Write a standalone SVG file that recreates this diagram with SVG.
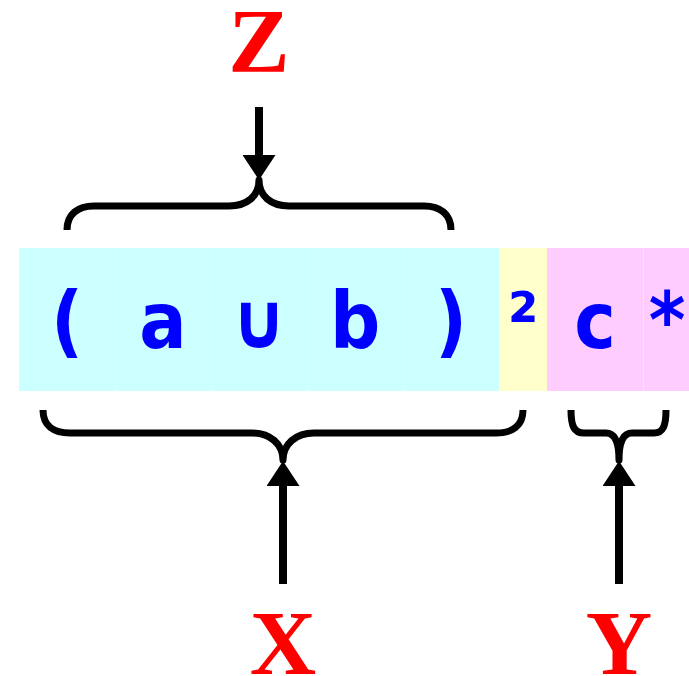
<svg xmlns="http://www.w3.org/2000/svg" width="689" height="676" viewBox="0 0 689 676">
<defs>
<style>
.sym{font-family:"DejaVu Sans Condensed","DejaVu Sans",sans-serif;font-stretch:condensed;font-weight:bold;font-size:78px;fill:#0000ff;text-anchor:middle}
.lbl{font-family:"Liberation Serif","Times New Roman",serif;font-weight:bold;font-size:92px;fill:#ff0000;text-anchor:middle}
.brace{fill:none;stroke:#000;stroke-width:7;stroke-linecap:butt;stroke-linejoin:round}
.arrow{fill:none;stroke:#000;stroke-width:8}
.sep{stroke:#ffffff;stroke-opacity:0.35;stroke-width:1}
</style>
<marker id="ah" viewBox="0 0 25 33" refX="0" refY="16.5" markerWidth="25" markerHeight="33" markerUnits="userSpaceOnUse" orient="auto">
<path d="M0,0 L25,16.5 L0,33 z" fill="#000"/>
</marker>
</defs>
<rect width="689" height="676" fill="#ffffff"/>
<g id="cells">
<rect x="19" y="248" width="480" height="143" fill="#ccffff"/>
<rect x="499" y="248" width="48" height="143" fill="#ffffcc"/>
<rect x="547" y="248" width="142" height="143" fill="#ffccff"/>
<line class="sep" x1="115.5" y1="248" x2="115.5" y2="391"/>
<line class="sep" x1="211.5" y1="248" x2="211.5" y2="391"/>
<line class="sep" x1="307.5" y1="248" x2="307.5" y2="391"/>
<line class="sep" x1="403.5" y1="248" x2="403.5" y2="391"/>
<line class="sep" x1="643.5" y1="248" x2="643.5" y2="391"/>
</g>
<g id="symbols">
<text class="sym" x="67" y="348">(</text>
<text class="sym" x="163" y="348">a</text>
<text class="sym" x="259" y="348">∪</text>
<text class="sym" x="355" y="348">b</text>
<text class="sym" x="451" y="348">)</text>
<text class="sym" x="523" y="348">²</text>
<text class="sym" x="595" y="348">c</text>
<text class="sym" x="667" y="348">*</text>
</g>
<g id="label-Z"><text class="lbl" x="259" y="72">Z</text></g>
<g id="label-X"><text class="lbl" x="283" y="674">X</text></g>
<g id="label-Y"><text class="lbl" x="619" y="674">Y</text></g>
<g id="connectors">
<path class="brace" d="M67,230 C67,214 78,206 94,206 L229,206 C247,206 259,196 259,180 C259,196 271,206 289,206 L424,206 C440,206 451,214 451,230"/>
<path class="brace" d="M43,410 C43,426 54,433 70,433 L252,433 C270,433 283,444 283,460 C283,444 296,433 314,433 L496,433 C512,433 523,426 523,410"/>
<path class="brace" d="M571,410 C571,426 574,433 584,433 L606,433 C615,433 619,444 619,460 C619,444 623,433 632,433 L654,433 C663,433 666,426 666,410"/>
<line class="arrow" x1="259" y1="107" x2="259" y2="155" marker-end="url(#ah)"/>
<line class="arrow" x1="283" y1="584" x2="283" y2="486" marker-end="url(#ah)"/>
<line class="arrow" x1="619" y1="584" x2="619" y2="486" marker-end="url(#ah)"/>
</g>
</svg>
